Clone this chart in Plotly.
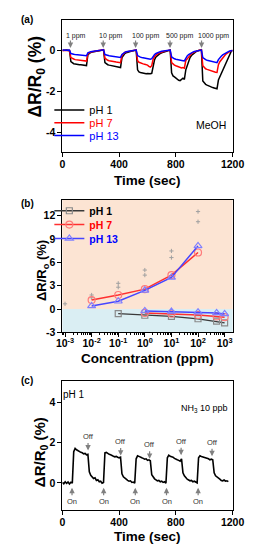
import plotly.graph_objects as go

FONT = "Liberation Sans, Arial, sans-serif"

# ---------------- Panel (a): MeOH response vs time ----------------
t_a = list(range(0, 1201, 10))
ph1_a = [
    0, 0.01, 0, 0.02, 0, 0,
    -0.55, -0.62, -0.65, -0.66, -0.68, -0.69, -0.70, -0.70, -0.71, -0.72, -0.72, -0.74,
    -0.20, -0.14, -0.10, -0.08, -0.06, -0.05, -0.03, -0.02, -0.01, 0, 0.02, 0.03,
    -0.60, -0.67, -0.70, -0.72, -0.74, -0.76, -0.78, -0.79, -0.80, -0.82, -0.83, -0.84,
    -0.35, -0.22, -0.15, -0.11, -0.08, -0.06, -0.04, -0.03, -0.01, 0, 0.02,
    -0.95, -1.05, -1.08, -1.10, -1.12, -1.12, -1.14, -1.13, -1.15, -1.14, -1.12,
    -0.70, -0.45, -0.32, -0.25, -0.20, -0.15, -0.12, -0.09, -0.06, -0.04, -0.02, 0, 0.02,
    -1.10, -1.25, -1.30, -1.36, -1.42, -1.46, -1.48, -1.42, -1.36, -1.42,
    -0.95, -0.75, -0.50, -0.35, -0.25, -0.18, -0.12, -0.07, -0.03, 0, 0.02, 0.03,
    -1.50, -1.60, -1.66, -1.70, -1.74, -1.77, -1.80, -1.82, -1.84, -1.87, -1.88,
    -1.45, -1.30, -1.15, -1.00, -0.85, -0.70, -0.55, -0.38, -0.20, -0.05, 0]
ph7_a = [
    0, 0, 0.01, 0, 0.01, 0,
    -0.35, -0.40, -0.42, -0.45, -0.46, -0.47, -0.48, -0.48, -0.50, -0.50, -0.51, -0.52,
    -0.15, -0.10, -0.08, -0.06, -0.05, -0.04, -0.03, -0.02, -0.01, 0, 0.02, 0.04,
    -0.38, -0.45, -0.48, -0.50, -0.52, -0.53, -0.55, -0.56, -0.57, -0.58, -0.60, -0.60,
    -0.25, -0.15, -0.10, -0.07, -0.05, -0.04, -0.03, -0.01, 0, 0.01, 0.02,
    -0.50, -0.58, -0.62, -0.64, -0.66, -0.68, -0.70, -0.72, -0.78, -0.82, -0.75,
    -0.42, -0.30, -0.22, -0.17, -0.13, -0.10, -0.08, -0.06, -0.04, -0.02, -0.01, 0.01, 0.02,
    -0.60, -0.68, -0.72, -0.75, -0.78, -0.82, -0.85, -0.86, -0.84, -0.87,
    -0.50, -0.40, -0.30, -0.22, -0.16, -0.11, -0.07, -0.04, -0.02, 0, 0.02, 0.03,
    -0.75, -0.85, -0.90, -0.93, -0.96, -0.98, -1.00, -1.02, -1.05, -1.07, -1.08,
    -0.70, -0.55, -0.45, -0.36, -0.28, -0.20, -0.14, -0.09, -0.05, -0.01, 0]
ph13_a = [
    0.02, 0.01, 0.02, 0.01, 0.02, 0.01,
    -0.15, -0.18, -0.19, -0.20, -0.21, -0.22, -0.23, -0.23, -0.24, -0.25, -0.25, -0.26,
    -0.12, -0.08, -0.06, -0.05, -0.04, -0.03, -0.02, -0.01, 0, 0.01, 0.02, 0.03,
    -0.20, -0.23, -0.25, -0.26, -0.27, -0.28, -0.29, -0.30, -0.31, -0.32, -0.33, -0.34,
    -0.20, -0.13, -0.09, -0.06, -0.04, -0.03, -0.02, -0.01, 0, 0.01, 0.02,
    -0.25, -0.30, -0.33, -0.35, -0.36, -0.38, -0.39, -0.40, -0.42, -0.43, -0.40,
    -0.28, -0.20, -0.15, -0.11, -0.08, -0.06, -0.04, -0.03, -0.02, -0.01, 0, 0.01, 0.02,
    -0.32, -0.38, -0.41, -0.43, -0.45, -0.47, -0.48, -0.50, -0.50, -0.51,
    -0.35, -0.27, -0.20, -0.15, -0.11, -0.08, -0.05, -0.03, -0.01, 0, 0.01, 0.02,
    -0.35, -0.42, -0.45, -0.48, -0.50, -0.52, -0.54, -0.55, -0.57, -0.58, -0.60,
    -0.45, -0.35, -0.28, -0.22, -0.17, -0.13, -0.09, -0.06, -0.03, -0.01, 0]
ppm_times = [57, 288, 516, 759, 981]
ppm_labels = ["1 ppm", "10 ppm", "100 ppm", "500 ppm", "1000 ppm"]

# ---------------- Panel (b): response vs concentration ----------------
conc_pos = [0.01, 0.1, 1, 10, 100]
ph7_pos = [1.15, 1.8, 2.55, 4.35, 7.25]
ph13_pos = [0.4, 1.0, 2.4, 4.05, 8.1]
conc_neg1 = [0.1, 1, 10, 100, 500, 1000]
ph1_neg = [-0.6, -0.8, -0.95, -1.25, -1.56, -1.77]
conc_neg = [1, 10, 100, 500, 1000]
ph7_neg = [-0.5, -0.6, -0.75, -0.95, -1.05]
ph13_neg = [-0.25, -0.32, -0.4, -0.5, -0.63]
err_conc = [0.001, 0.01, 0.01, 0.1, 0.1, 1, 1, 10, 10, 100, 100]
err_vals = [0.67, 1.8, 1.45, 3.3, 2.8, 5.0, 4.35, 7.45, 6.6, 12.5, 11.2]
conc_ticks = [0.001, 0.01, 0.1, 1, 10, 100, 1000]
conc_ticktext = ["10<sup>-3</sup>", "10<sup>-2</sup>", "10<sup>-1</sup>", "10<sup>0</sup>",
                 "10<sup>1</sup>", "10<sup>2</sup>", "10<sup>3</sup>"]

# ---------------- Panel (c): NH3 10 ppb pulses ----------------
t_c = list(range(0, 1171, 10))
ph1_c = [
    0.02, -0.05, 0.05, -0.03, 0.04, -0.06, 0.03, -0.02,
    1.55, 1.72, 1.65, 1.60, 1.58, 1.52, 1.50, 1.45, 1.47, 1.40, 1.42,
    0.55, 0.38, 0.30, 0.22, 0.25, 0.12, 0.15, 0.05, 0.08, -0.02,
    0.02,
    1.50, 1.52, 1.45, 1.42, 1.40, 1.35, 1.33, 1.30, 1.32, 1.28, 1.25, 1.28,
    0.45, 0.30, 0.22, 0.18, 0.12, 0.08, 0.10, 0.02, 0.04, -0.02,
    1.20, 1.35, 1.32, 1.30, 1.25, 1.22, 1.18, 1.20, 1.12, 1.15, 1.10,
    0.40, 0.28, 0.20, 0.15, 0.10, 0.12, 0.05, 0.08, 0.02, 0.05, -0.02,
    1.25, 1.38, 1.32, 1.30, 1.28, 1.22, 1.20, 1.15, 1.12, 1.08, 1.20,
    0.50, 0.35, 0.25, 0.18, 0.14, 0.10, 0.12, 0.05, 0.08, 0.03, 0.00,
    1.25, 1.35, 1.32, 1.30, 1.28, 1.25, 1.22, 1.20, 1.15, 1.18, 1.15,
    0.50, 0.35, 0.28, 0.20, 0.18, 0.12, 0.10, 0.14, 0.08, 0.10, 0.06]
on_times = [68, 291, 514, 734, 957]
off_times = [181, 411, 615, 837, 1055]
off_vals = [1.62, 1.36, 1.2, 1.38, 1.33]

W, H = 258, 550
fig = go.Figure()

# (a) traces, one legend each so the entries can sit close together
for i, (name, vals, col) in enumerate([("pH 1", ph1_a, "#000000"), ("pH 7", ph7_a, "#ff0000"),
                                        ("pH 13", ph13_a, "#0000ff")]):
    fig.add_trace(go.Scatter(x=t_a, y=vals, mode="lines", line=dict(color=col, width=1.5),
                             name=f"<span style='color:{col}'>{name}</span>",
                             xaxis="x", yaxis="y", legend="legend" if i == 0 else f"legend{i + 1}"))

# (b) traces
grey_line, grey_mk = "#3a3a3a", "#8a8a8a"
red_line, red_mk = "#ff3030", "#ff7a7a"
blue_line, blue_mk = "#4646ff", "#8080ff"
fig.add_trace(go.Scatter(x=err_conc, y=err_vals, mode="markers",
                         marker=dict(symbol="cross-thin", size=3, line=dict(color="#a0a0a0", width=1)),
                         showlegend=False, xaxis="x2", yaxis="y2"))
fig.add_trace(go.Scatter(x=conc_neg1, y=ph1_neg, mode="lines+markers",
                         line=dict(color=grey_line, width=1.3),
                         marker=dict(symbol="square-open", size=6, color=grey_mk, line=dict(width=1.2)),
                         name="<b><span style='color:black'>pH 1</span></b>",
                         xaxis="x2", yaxis="y2", legend="legend4"))
fig.add_trace(go.Scatter(x=conc_pos, y=ph7_pos, mode="lines+markers",
                         line=dict(color=red_line, width=1.5),
                         marker=dict(symbol="circle-open", size=7, color=red_mk, line=dict(width=1.2)),
                         name="<b><span style='color:#ff0000'>pH 7</span></b>",
                         xaxis="x2", yaxis="y2", legend="legend5", legendgroup="p7"))
fig.add_trace(go.Scatter(x=conc_pos, y=ph13_pos, mode="lines+markers",
                         line=dict(color=blue_line, width=1.5),
                         marker=dict(symbol="triangle-up-open", size=7, color=blue_mk, line=dict(width=1.2)),
                         name="<b><span style='color:#0000ff'>pH 13</span></b>",
                         xaxis="x2", yaxis="y2", legend="legend6", legendgroup="p13"))
fig.add_trace(go.Scatter(x=conc_neg, y=ph7_neg, mode="lines+markers",
                         line=dict(color=red_line, width=1.5),
                         marker=dict(symbol="circle-open", size=7, color=red_mk, line=dict(width=1.2)),
                         showlegend=False, legendgroup="p7", xaxis="x2", yaxis="y2"))
fig.add_trace(go.Scatter(x=conc_neg, y=ph13_neg, mode="lines+markers",
                         line=dict(color=blue_line, width=1.5),
                         marker=dict(symbol="triangle-up-open", size=7, color=blue_mk, line=dict(width=1.2)),
                         showlegend=False, legendgroup="p13", xaxis="x2", yaxis="y2"))

# (c) trace
fig.add_trace(go.Scatter(x=t_c, y=ph1_c, mode="lines", line=dict(color="black", width=1.6),
                         showlegend=False, xaxis="x3", yaxis="y3"))

xdom = [52 / W, 235 / W]
ydom_a = [(H - 146) / H, (H - 12) / H]
ydom_b = [(H - 328) / H, (H - 194) / H]
ydom_c = [(H - 508) / H, (H - 377) / H]

tickfont = dict(family=FONT, size=10.5, color="black", weight="bold")
base = dict(showline=True, linecolor="black", linewidth=1, mirror=True, ticks="outside",
            ticklen=4, tickwidth=1, tickcolor="black", showgrid=False, zeroline=False,
            tickfont=tickfont)


def leg(xpx, ypx, size):
    return dict(x=xpx / W, y=(H - ypx) / H, xanchor="left", yanchor="middle",
                bgcolor="rgba(0,0,0,0)", borderwidth=0, itemwidth=30,
                font=dict(family=FONT, size=size, color="black"))


fig.update_layout(
    width=W, height=H, margin=dict(l=0, r=0, t=0, b=0),
    paper_bgcolor="white", plot_bgcolor="white",
    font=dict(family=FONT, color="black"),
    xaxis=dict(base, domain=xdom, anchor="y", range=[0, 1200], tickvals=[0, 400, 800, 1200],
               ticklabelstandoff=-2),
    yaxis=dict(base, domain=ydom_a, anchor="x", range=[-5, 1.5], tickvals=[0, -2, -4],
               ticktext=["0", "-2", "-4"]),
    xaxis2=dict(base, domain=xdom, anchor="y2", type="log", range=[-3.1, 3.3],
                tickvals=conc_ticks, ticktext=conc_ticktext, ticklabelstandoff=-3,
                minor=dict(ticks="outside", ticklen=2, tickcolor="black", dtick="D1")),
    yaxis2=dict(base, domain=ydom_b, anchor="x2", range=[-3, 14], tickvals=[-3, 0, 3, 6, 9, 12],
                ticktext=["-3", "0", "3", "6", "9", "12"]),
    xaxis3=dict(base, domain=xdom, anchor="y3", range=[0, 1200], tickvals=[0, 400, 800, 1200],
                ticklabelstandoff=-2),
    yaxis3=dict(base, domain=ydom_c, anchor="x3", range=[-1.38, 5.09], tickvals=[0, 2, 4]),
    legend=leg(38, 103, 11), legend2=leg(38, 116, 11), legend3=leg(38, 129, 11),
    legend4=leg(38, 205, 10.5), legend5=leg(38, 219, 10.5), legend6=leg(38, 233, 10.5),
)

# backgrounds of panel (b)
fig.add_shape(type="rect", xref="x2 domain", yref="y2", x0=0, x1=1, y0=0, y1=14,
              fillcolor="#fce4d3", line_width=0, layer="below")
fig.add_shape(type="rect", xref="x2 domain", yref="y2", x0=0, x1=1, y0=-3, y1=0,
              fillcolor="#daeef3", line_width=0, layer="below")

ann = []


def paper_text(text, xpx, ypx, size, angle=0, xanchor="center"):
    ann.append(dict(text=text, xref="paper", yref="paper", x=xpx / W, y=(H - ypx) / H,
                    xanchor=xanchor, yanchor="middle", showarrow=False, textangle=angle,
                    font=dict(family=FONT, size=size, color="black", weight="bold")))


# panel letters
for lab, ypx in [("(a)", 12), ("(b)", 198), ("(c)", 377)]:
    paper_text(lab, 5, ypx, 10, xanchor="left")
# axis titles
paper_text("Time (sec)", 144, 174, 13.5)
paper_text("Concentration (ppm)", 144, 354, 13.5)
paper_text("Time (sec)", 144, 534, 13.5)
paper_text("ΔR/R<sub>0</sub> (%)", 24, 69, 17.5, angle=-90)
paper_text("ΔR/R<sub>o</sub> (%)", 30, 265, 13, angle=-90)
paper_text("ΔR/R<sub>0</sub> (%)", 28, 449, 15, angle=-90)

# (a) ppm arrows
for t, lab in zip(ppm_times, ppm_labels):
    ann.append(dict(x=t, y=0.12, xref="x", yref="y", text="", showarrow=True, ax=0, ay=-9,
                    arrowhead=2, arrowsize=0.9, arrowwidth=1.2, arrowcolor="#808080"))
    ann.append(dict(x=t, y=0.72, xref="x", yref="y", text=lab, showarrow=False, xanchor="left",
                    xshift=-6, font=dict(family=FONT, size=7, color="#222222")))
ann.append(dict(x=1045, y=-3.68, xref="x", yref="y", text="MeOH", showarrow=False,
                font=dict(family=FONT, size=10.5, color="black")))
# (c) labels
ann.append(dict(x=80, y=4.4, xref="x3", yref="y3", text="pH 1", showarrow=False,
                font=dict(family=FONT, size=10, color="black")))
ann.append(dict(x=1000, y=3.7, xref="x3", yref="y3", text="NH<sub>3</sub> 10 ppb", showarrow=False,
                font=dict(family=FONT, size=9, color="black")))
for t, v in zip(off_times, off_vals):
    ann.append(dict(x=t, y=v, xref="x3", yref="y3", text="", showarrow=True, ax=0, ay=-9,
                    arrowhead=2, arrowsize=0.9, arrowwidth=1.2, arrowcolor="#808080"))
    ann.append(dict(x=t, y=v, xref="x3", yref="y3", text="Off", showarrow=False, yshift=14,
                    font=dict(family=FONT, size=7.5, color="#333333")))
for t in on_times:
    ann.append(dict(x=t, y=-0.25, xref="x3", yref="y3", text="", showarrow=True, ax=0, ay=9,
                    arrowhead=2, arrowsize=0.9, arrowwidth=1.2, arrowcolor="#808080"))
    ann.append(dict(x=t, y=-0.25, xref="x3", yref="y3", text="On", showarrow=False, yshift=-14,
                    font=dict(family=FONT, size=7.5, color="#333333")))
fig.update_layout(annotations=ann)

fig.write_html("out.html")
